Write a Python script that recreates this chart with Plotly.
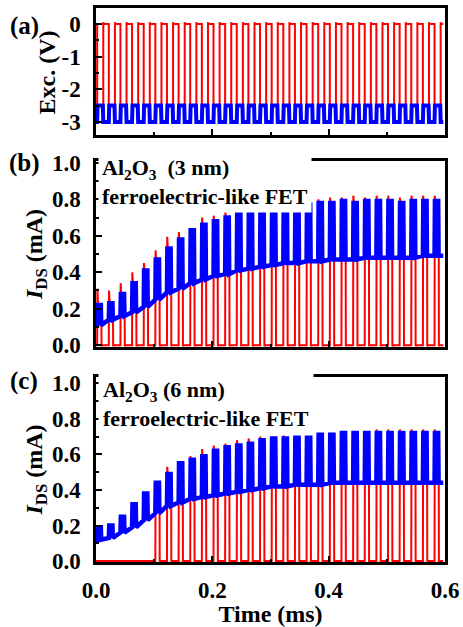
import plotly.graph_objects as go

# ---------------- data ----------------
PERIOD = 0.02          # ms, pulse period
N_CYCLES = 30
ON_START = 0.002       # ms, start of the "on" phase inside each period
ON_END = 0.009         # ms, end of the "on" phase inside each period
EXC_OFF_END = 0.0125   # ms, end of the 0 V phase of the excitation
T_END = 0.597          # ms, last recorded sample

# (a) excitation levels (V)
exc_red_on, exc_red_off, exc_red_overshoot = -2.5, 0.0, 0.05
exc_blue_on, exc_blue_off = -2.5, -3.0

# (b) Al2O3 (3 nm) : per-cycle levels (mA)
b_blue_high = [0.22, 0.23, 0.28, 0.34, 0.41, 0.47, 0.53, 0.58, 0.63, 0.66,
               0.68, 0.70, 0.72, 0.73, 0.74, 0.75, 0.76, 0.76, 0.77, 0.78,
               0.78, 0.79, 0.78, 0.79, 0.79, 0.79, 0.78, 0.79, 0.79, 0.79]
b_blue_low = [0.11, 0.14, 0.16, 0.18, 0.21, 0.25, 0.29, 0.31, 0.34, 0.36,
              0.38, 0.39, 0.41, 0.42, 0.43, 0.44, 0.45, 0.45, 0.46, 0.46,
              0.47, 0.47, 0.47, 0.48, 0.48, 0.48, 0.48, 0.48, 0.49, 0.49]
b_red_peak = [0.31, 0.30, 0.34, 0.40, 0.45, 0.52, 0.595, 0.62, 0.64, 0.70,
              0.71, 0.73, 0.75, 0.76, 0.77, 0.78, 0.79, 0.79, 0.80, 0.80,
              0.81, 0.81, 0.82, 0.81, 0.82, 0.82, 0.81, 0.82, 0.82, 0.82]
b_red_first_cycle = 0

# (c) Al2O3 (6 nm) : per-cycle levels (mA)
c_blue_high = [0.19, 0.20, 0.25, 0.32, 0.38, 0.44, 0.49, 0.55, 0.57, 0.59,
               0.62, 0.64, 0.65, 0.66, 0.68, 0.69, 0.69, 0.70, 0.70, 0.71,
               0.71, 0.72, 0.72, 0.72, 0.72, 0.72, 0.72, 0.72, 0.72, 0.72]
c_blue_low = [0.12, 0.13, 0.16, 0.19, 0.23, 0.27, 0.31, 0.33, 0.35, 0.36,
              0.37, 0.38, 0.39, 0.40, 0.41, 0.42, 0.42, 0.43, 0.43, 0.43,
              0.44, 0.44, 0.44, 0.44, 0.44, 0.44, 0.44, 0.44, 0.44, 0.44]
c_red_peak = [0.0, 0.0, 0.0, 0.0, 0.0, 0.45, 0.53, 0.56, 0.59, 0.63,
              0.65, 0.66, 0.68, 0.69, 0.70, 0.70, 0.71, 0.71, 0.71, 0.72,
              0.72, 0.73, 0.73, 0.73, 0.74, 0.74, 0.74, 0.74, 0.74, 0.74]
c_red_first_cycle = 5

x_tick_vals = [0.0, 0.2, 0.4, 0.6]
exc_tick_vals = [0, -1, -2, -3]
exc_tick_text = ["0", "-1", "-2", "-3"]
ids_tick_vals = [0.0, 0.2, 0.4, 0.6, 0.8, 1.0]

RED = "#FF0000"
BLUE = "#0000FF"
FONT = "Liberation Serif"

# ---------------- waveform assembly from the per-cycle levels ----------------
RAMP = 0.0007


def blue_wave(high, low):
    t, v = [0.0], [low[0]]
    for k in range(N_CYCLES):
        t0 = k * PERIOD + ON_START
        t1 = k * PERIOD + ON_END
        t += [t0, t0 + RAMP, t1 - RAMP, t1]
        v += [low[k], high[k], high[k], low[k]]
    t.append(T_END)
    v.append(low[-1])
    return t, v


def red_current(peak, plateau, first):
    t, v = [0.0], [0.0]
    for k in range(first, N_CYCLES):
        t0 = k * PERIOD + ON_START
        t1 = k * PERIOD + ON_END + 0.0005
        t += [t0, t0 + 0.0004, t0 + 0.0016, t1 - 0.0003, t1, t1 + 0.0008]
        v += [0.0, peak[k], plateau[k] - 0.01, plateau[k] - 0.015, -0.006, 0.0]
    t.append(T_END)
    v.append(0.0)
    return t, v


def exc_red():
    t, v = [0.0], [exc_red_off]
    for k in range(N_CYCLES):
        t0 = k * PERIOD + ON_START
        t1 = k * PERIOD + EXC_OFF_END
        t += [t0, t0, t1, t1, t1 + 0.0012]
        v += [exc_red_off, exc_red_on, exc_red_on, exc_red_overshoot, exc_red_off]
    t.append(T_END)
    v.append(exc_red_off)
    return t, v


def exc_blue():
    t, v = [0.0], [exc_blue_off]
    for k in range(N_CYCLES):
        t0 = k * PERIOD + ON_START
        t1 = k * PERIOD + EXC_OFF_END
        t += [t0, t0 + RAMP, t1 - RAMP, t1]
        v += [exc_blue_off, exc_blue_on, exc_blue_on, exc_blue_off]
    t.append(T_END)
    v.append(exc_blue_off)
    return t, v


fig = go.Figure()

ta, va = exc_red()
fig.add_trace(go.Scatter(x=ta, y=va, mode="lines", line=dict(color=RED, width=2),
                         xaxis="x", yaxis="y", name="gate"))
ta, va = exc_blue()
fig.add_trace(go.Scatter(x=ta, y=va, mode="lines", line=dict(color=BLUE, width=4),
                         xaxis="x", yaxis="y", name="drain"))

tb, vb = red_current(b_red_peak, b_blue_high, b_red_first_cycle)
fig.add_trace(go.Scatter(x=tb, y=vb, mode="lines", line=dict(color=RED, width=2),
                         xaxis="x2", yaxis="y2", name="b red"))
tb, vb = blue_wave(b_blue_high, b_blue_low)
fig.add_trace(go.Scatter(x=tb, y=vb, mode="lines", line=dict(color=BLUE, width=4.5),
                         xaxis="x2", yaxis="y2", name="b blue"))

tc, vc = red_current(c_red_peak, c_blue_high, c_red_first_cycle)
fig.add_trace(go.Scatter(x=tc, y=vc, mode="lines", line=dict(color=RED, width=2),
                         xaxis="x3", yaxis="y3", name="c red"))
tc, vc = blue_wave(c_blue_high, c_blue_low)
fig.add_trace(go.Scatter(x=tc, y=vc, mode="lines", line=dict(color=BLUE, width=4.5),
                         xaxis="x3", yaxis="y3", name="c blue"))

tickfont = dict(family=FONT, size=23, color="black", weight="bold")
titlefont = dict(family=FONT, size=24, color="black", weight="bold")

axis_common = dict(showline=True, linecolor="black", linewidth=2.5, mirror=True,
                   ticks="inside", ticklen=6, tickwidth=2, tickcolor="black",
                   showgrid=False, zeroline=False, tickfont=tickfont, automargin=False)

xcommon = dict(axis_common, range=[0, 0.6], tickvals=x_tick_vals, tickformat=".1f",
               minor=dict(ticks="inside", ticklen=3, tickwidth=1.5, tickcolor="black",
                          dtick=0.1, tick0=0, showgrid=False))

fig.update_layout(
    width=463, height=627,
    margin=dict(l=96, r=18, t=8, b=65, autoexpand=False),
    paper_bgcolor="white", plot_bgcolor="white",
    showlegend=False,
    font=dict(family=FONT, color="black"),
    xaxis=dict(xcommon, anchor="y", showticklabels=False),
    xaxis2=dict(xcommon, anchor="y2", showticklabels=False),
    xaxis3=dict(xcommon, anchor="y3", showticklabels=True, ticklabelstandoff=6,
                title=dict(text="Time (ms)", font=titlefont, standoff=9)),
    yaxis=dict(axis_common, domain=[0.7708, 1.0], range=[-3.4, 0.49],
               tickvals=exc_tick_vals, ticktext=exc_tick_text, ticklabelstandoff=8,
               minor=dict(ticks="inside", ticklen=3, tickwidth=1.5, tickcolor="black",
                          dtick=0.5, tick0=0, showgrid=False)),
    yaxis2=dict(axis_common, domain=[0.3881, 0.7238], range=[-0.01, 1.01],
                tickvals=ids_tick_vals, tickformat=".1f", ticklabelstandoff=8,
                minor=dict(ticks="inside", ticklen=3, tickwidth=1.5, tickcolor="black",
                           dtick=0.1, tick0=0, showgrid=False),
                title=dict(text="<i>I</i><sub>DS</sub> (mA)", font=titlefont, standoff=3)),
    yaxis3=dict(axis_common, domain=[0.0, 0.3339], range=[-0.005, 1.035],
                tickvals=ids_tick_vals, tickformat=".1f", ticklabelstandoff=8,
                minor=dict(ticks="inside", ticklen=3, tickwidth=1.5, tickcolor="black",
                           dtick=0.1, tick0=0, showgrid=False),
                title=dict(text="<i>I</i><sub>DS</sub> (mA)", font=titlefont, standoff=3)),
)

labfont = dict(family=FONT, size=25, color="black", weight="bold")
boxfont = dict(family=FONT, size=22, color="black", weight="bold")

annotations = [
    dict(text="(a)", x=-0.206, y=0.9675, font=labfont),
    dict(text="(b)", x=-0.206, y=0.7202, font=labfont),
    dict(text="(c)", x=-0.206, y=0.3267, font=labfont),
    dict(text="Exc. (V)", x=-0.1404, y=0.8836, font=titlefont, textangle=-90),
]
for a in annotations:
    a.update(xref="paper", yref="paper", xanchor="center", yanchor="middle",
             showarrow=False)

annotations += [
    dict(text="Al<sub>2</sub>O<sub>3</sub>\u00a0 (3 nm)<br>ferroelectric-like FET",
         xref="paper", yref="paper", x=0.0057, y=0.6868, xanchor="left", yanchor="middle",
         align="left", showarrow=False, bgcolor="white", borderpad=3, font=boxfont),
    dict(text="Al<sub>2</sub>O<sub>3</sub> (6 nm)<br>ferroelectric-like FET",
         xref="paper", yref="paper", x=0.0057, y=0.285, xanchor="left", yanchor="middle",
         align="left", showarrow=False, bgcolor="white", borderpad=4, font=boxfont),
]
fig.update_layout(annotations=annotations)

fig.write_html("out.html")
